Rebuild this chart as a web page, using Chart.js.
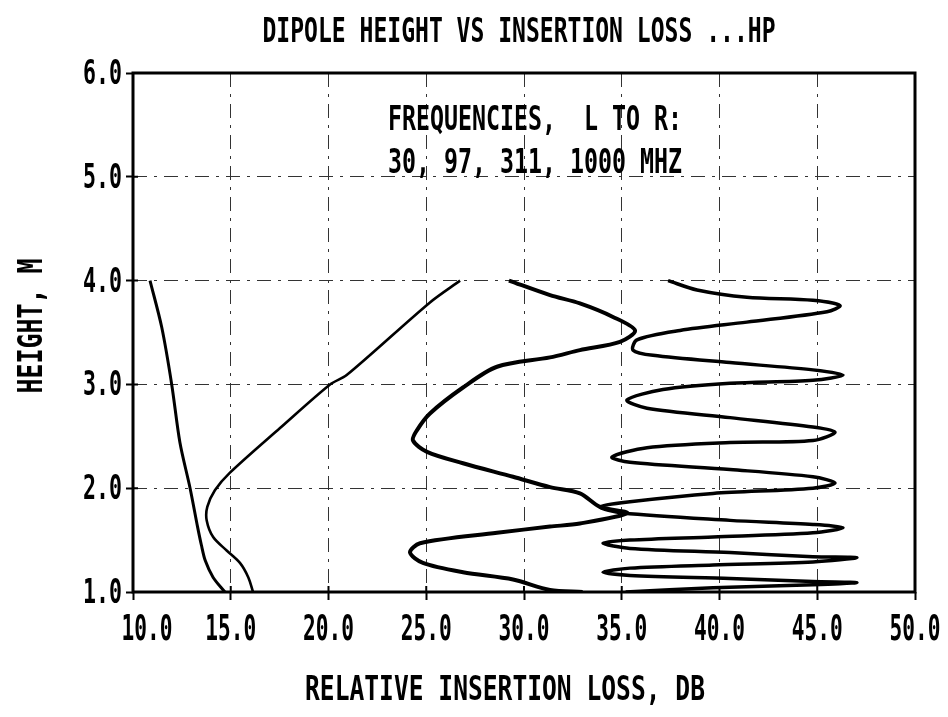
<!DOCTYPE html>
<html>
<head>
<meta charset="utf-8">
<title>Dipole height vs insertion loss</title>
<script src="https://cdn.jsdelivr.net/npm/chart.js@4/dist/chart.umd.min.js"></script>
<style>
  html, body { margin: 0; padding: 0; background: #fff; }
  #wrap { width: 948px; height: 717px; position: relative; }
</style>
</head>
<body>
<div id="wrap"><canvas id="c" width="948" height="717"></canvas></div>
<script>
// Relative insertion loss (dB) against dipole height (m), one trace per frequency
const height30 = [4.0, 3.55, 3.0, 2.44, 2.0, 1.63, 1.45, 1.30, 1.14, 1.0];
const loss30   = [10.87, 11.47, 11.98, 12.4, 12.92, 13.3, 13.5, 13.7, 14.1, 14.7];

const height97 = [4.0, 3.79, 3.09, 3.0, 2.58, 2.15, 1.98, 1.82, 1.69, 1.53, 1.40, 1.28, 1.14, 1.0];
const loss97   = [26.73, 25.19, 20.93, 20.08, 17.52, 14.96, 14.19, 13.8, 13.77, 14.1, 14.79, 15.47, 15.9, 16.14];

const height311 = [4.0, 3.86, 3.78, 3.65, 3.52, 3.41, 3.33, 3.26, 3.17, 2.97, 2.72, 2.56, 2.46, 2.35, 2.24, 2.11, 2.01, 1.95, 1.82, 1.76, 1.66, 1.63, 1.57, 1.47, 1.38, 1.28, 1.19, 1.12, 1.02, 1.0];
const loss311   = [29.23, 31.33, 32.86, 34.55, 35.68, 34.91, 32.86, 31.33, 28.62, 26.88, 25.19, 24.53, 24.32, 25.04, 26.88, 29.44, 31.33, 32.86, 33.89, 35.27, 32.86, 31.33, 28.62, 24.68, 24.17, 24.83, 26.88, 29.44, 31.33, 33.0];

const height1000 = [4.0, 3.91, 3.84, 3.81, 3.76, 3.70, 3.60, 3.52, 3.43, 3.33, 3.28, 3.21, 3.14, 3.09, 3.04, 3.01, 2.95, 2.85, 2.77, 2.68, 2.59, 2.54, 2.46, 2.44, 2.39, 2.30, 2.25, 2.18, 2.11, 2.05, 2.0, 1.95, 1.87, 1.82, 1.76, 1.69, 1.65, 1.62, 1.57, 1.53, 1.50, 1.47, 1.42, 1.38, 1.34, 1.33, 1.29, 1.26, 1.23, 1.19, 1.16, 1.13, 1.10, 1.09, 1.07, 1.04, 1.0];
const loss1000   = [37.37, 38.85, 41.4, 44.78, 46.16, 45.5, 41.4, 37.98, 35.78, 35.58, 36.6, 40.54, 44.78, 46.32, 44.78, 40.54, 37.11, 35.27, 36.29, 40.54, 44.78, 45.91, 44.78, 40.54, 36.29, 34.5, 35.42, 40.54, 44.78, 45.91, 44.78, 39.67, 35.42, 33.89, 35.06, 40.54, 44.78, 46.32, 44.78, 39.67, 35.42, 34.04, 35.42, 40.54, 44.78, 47.03, 44.78, 39.67, 35.42, 34.04, 35.42, 40.54, 44.78, 47.03, 44.78, 39.67, 35.2];

const xTicks = [10, 15, 20, 25, 30, 35, 40, 45, 50];
const yTicks = [1, 2, 3, 4, 5, 6];

const titleText = 'DIPOLE HEIGHT VS INSERTION LOSS ...HP';
const noteLines = ['FREQUENCIES,  L TO R:', '30, 97, 311, 1000 MHZ'];
const xTitle = 'RELATIVE INSERTION LOSS, DB';
const yTitle = 'HEIGHT, M';

// Narrow, tall plotter-style lettering: a bold mono face squeezed horizontally
const MONO = "'DejaVu Sans Mono', 'Liberation Mono', monospace";

function plotterText(ctx, text, x, y, o) {
  ctx.save();
  ctx.font = 'bold ' + o.size + 'px ' + MONO;
  ctx.textAlign = o.align || 'center';
  ctx.textBaseline = 'alphabetic';
  ctx.fillStyle = '#000';
  let sx = o.sx || 0.64;
  if (o.width) sx = o.width / ctx.measureText(text).width;
  ctx.translate(x, y);
  if (o.rotate) ctx.rotate(o.rotate);
  ctx.scale(sx, 1);
  ctx.fillText(text, 0, 0);
  ctx.restore();
}

function pairs(xs, ys) { return xs.map((x, i) => ({ x: x, y: ys[i] })); }

function trace(xs, ys, w) {
  return {
    data: pairs(xs, ys),
    showLine: true,
    borderColor: '#000',
    backgroundColor: '#000',
    borderWidth: w,
    pointRadius: 0,
    tension: 0.3,
    fill: false
  };
}

// Frame, inner tick stubs, tick labels, axis titles, chart title and the frequency note
const decor = {
  id: 'decor',
  afterDatasetsDraw(chart) {
    const { ctx, chartArea: a, scales } = chart;
    ctx.save();
    ctx.strokeStyle = '#000';
    ctx.lineWidth = 3;
    ctx.setLineDash([]);
    ctx.strokeRect(a.left, a.top, a.right - a.left, a.bottom - a.top);
    ctx.lineWidth = 2;
    ctx.beginPath();
    xTicks.forEach(v => {
      const px = scales.x.getPixelForValue(v);
      ctx.moveTo(px, a.bottom);
      ctx.lineTo(px, a.bottom - 6);
    });
    yTicks.forEach(v => {
      const py = scales.y.getPixelForValue(v);
      ctx.moveTo(a.left, py);
      ctx.lineTo(a.left + 5, py);
    });
    ctx.stroke();
    ctx.restore();

    xTicks.forEach((v, i) => {
      const px = scales.x.getPixelForValue(v) + (i === 0 ? 14 : 0);
      plotterText(ctx, v.toFixed(1), px, a.bottom + 48, { size: 36, width: 51 });
    });
    yTicks.forEach(v => {
      const py = scales.y.getPixelForValue(v);
      plotterText(ctx, v.toFixed(1), a.left - 11, py + 11, { size: 34, width: 39, align: 'right' });
    });

    plotterText(ctx, titleText, 519, 42, { size: 34, width: 513 });
    plotterText(ctx, noteLines[0], 535, 130, { size: 33, width: 294 });
    plotterText(ctx, noteLines[1], 535, 173, { size: 33, width: 294 });
    plotterText(ctx, xTitle, 505, 700, { size: 34, width: 400 });
    plotterText(ctx, yTitle, 42, 326, { size: 34, width: 135, rotate: -Math.PI / 2 });
  }
};

new Chart(document.getElementById('c'), {
  type: 'scatter',
  data: {
    datasets: [
      trace(loss30, height30, 3),
      trace(loss97, height97, 2.6),
      trace(loss311, height311, 4),
      trace(loss1000, height1000, 3.5)
    ]
  },
  options: {
    responsive: false,
    animation: false,
    layout: { padding: { left: 0, top: 73, right: 33, bottom: 0 } },
    plugins: { legend: { display: false }, tooltip: { enabled: false }, title: { display: false } },
    scales: {
      x: {
        type: 'linear',
        min: 10, max: 50,
        afterBuildTicks: s => { s.ticks = xTicks.map(v => ({ value: v })); },
        afterFit: s => { s.height = 125; },
        ticks: { display: false },
        grid: { color: '#333', lineWidth: 1, tickLength: 8, tickColor: '#000', tickWidth: 2 },
        border: { display: false, dash: [14, 7, 3, 7] },
        title: { display: false }
      },
      y: {
        type: 'linear',
        min: 1, max: 6,
        afterBuildTicks: s => { s.ticks = yTicks.map(v => ({ value: v })); },
        afterFit: s => { s.width = 133; },
        ticks: { display: false },
        grid: { color: '#333', lineWidth: 1, tickLength: 7, tickColor: '#000', tickWidth: 2 },
        border: { display: false, dash: [14, 7, 3, 7] },
        title: { display: false }
      }
    }
  },
  plugins: [decor]
});
</script>
</body>
</html>
